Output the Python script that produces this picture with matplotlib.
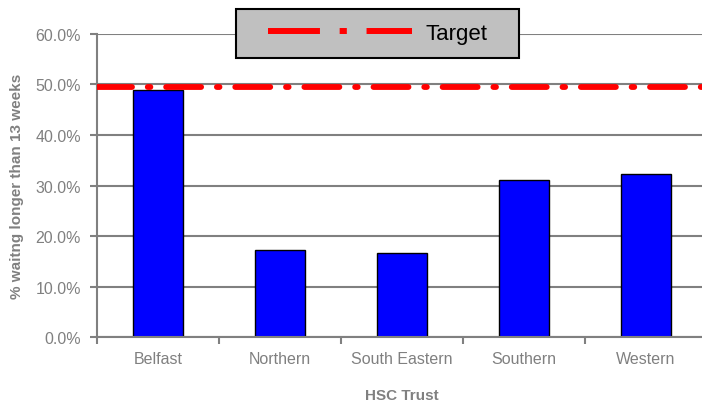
import matplotlib
matplotlib.use("Agg")
import matplotlib.pyplot as plt
from matplotlib.lines import Line2D
from matplotlib.path import Path
from matplotlib.ticker import FixedLocator, PercentFormatter

trusts = ["Belfast", "Northern", "South Eastern", "Southern", "Western"]
pct_waiting = [49.0, 17.2, 16.6, 31.1, 32.3]
target = 49.6
yticks = [0, 10, 20, 30, 40, 50, 60]

GRIS = "#808080"
plt.rcParams["font.family"] = ["Liberation Sans", "DejaVu Sans"]

fig = plt.figure(figsize=(7.02, 4.02), dpi=100)
ax = fig.add_axes([0.138, 0.159, 0.869, 0.754])

x = range(len(trusts))
ax.bar(x, pct_waiting, width=0.41, color="#0000FF", edgecolor="black",
       linewidth=1.0, zorder=2)
ax.axhline(target, color="#FF0000", lw=4.2, dashes=(6.0, 2.7, 0.45, 2.7),
           dash_capstyle="round", zorder=3)

ax.set_xlim(-0.5, len(trusts) - 0.5)
ax.set_ylim(0, 60)
ax.set_yticks(yticks)
ax.yaxis.set_major_formatter(PercentFormatter(decimals=1))
ax.grid(axis="y", color=GRIS, lw=1.5, zorder=0)
ax.set_axisbelow(True)

ax.set_xticks(list(x))
ax.set_xticklabels(trusts)
ax.xaxis.set_minor_locator(FixedLocator([i - 0.5 for i in range(len(trusts) + 1)]))
ax.tick_params(axis="x", which="major", length=0, pad=10, colors=GRIS, labelsize=11.5)
ax.tick_params(axis="x", which="minor", length=5, width=1.5, color=GRIS)
ax.tick_params(axis="y", length=5, width=1.5, pad=6.5, colors=GRIS, labelsize=11.5)

for lado in ("top", "right"):
    ax.spines[lado].set_visible(False)
for lado in ("left", "bottom"):
    ax.spines[lado].set_color(GRIS)
    ax.spines[lado].set_linewidth(1.5)

ax.set_xlabel("HSC Trust", color=GRIS, fontsize=11, weight="bold", labelpad=16)
ax.set_ylabel("% waitng longer than 13 weeks", color=GRIS, fontsize=11,
              weight="bold", labelpad=8)

# leyenda con más margen horizontal que vertical
def caja_ancha(x0, y0, width, height, mutation_size):
    p = 0.8 * mutation_size
    return Path([(x0 - p, y0), (x0 + width + p, y0), (x0 + width + p, y0 + height),
                 (x0 - p, y0 + height), (x0 - p, y0)], closed=True)

muestra = Line2D([], [], color="#FF0000", lw=4.3, dashes=(8.7, 3.3, 1.2, 3.3))
leg = ax.legend([muestra], ["Target"], loc="center",
                bbox_to_anchor=(0.538, 0.914), bbox_transform=fig.transFigure,
                fontsize=16, handlelength=6.5, handletextpad=0.58,
                borderpad=0.63, fancybox=False, framealpha=1,
                facecolor="#C0C0C0", edgecolor="black")
leg.get_frame().set_linewidth(1.5)
leg.get_frame().set_boxstyle(caja_ancha)

plt.savefig("out.png", dpi=100)
